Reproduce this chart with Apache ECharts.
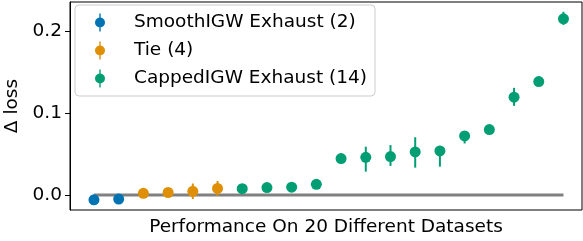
<!DOCTYPE html>
<html>
<head>
<meta charset="utf-8">
<script src="https://cdn.jsdelivr.net/npm/echarts@6/dist/echarts.min.js"></script>
<style>
  *{ margin:0; padding:0; }
  #chart{ width:583px; height:241px; background:#fff; }
</style>
</head>
<body>
<div id="chart"></div>
<script>
  // one entry per dataset, sorted by mean loss difference
  var datasetIdx = [0,1,2,3,4,5,6,7,8,9,10,11,12,13,14,15,16,17,18,19];
  var groupOf = ['s','s','t','t','t','t','c','c','c','c','c','c','c','c','c','c','c','c','c','c'];
  var meanLoss = [-0.006,-0.005,0.002,0.003,0.0045,0.008,0.0077,0.009,0.0095,0.013,
                  0.0445,0.046,0.047,0.0526,0.0539,0.0722,0.080,0.1196,0.1387,0.2154];
  var lowLoss  = [-0.007,-0.006,0.001,0.0015,-0.005,-0.001,0.006,0.007,0.0075,0.011,
                  0.039,0.0285,0.0355,0.0334,0.0346,0.063,0.077,0.109,0.135,0.208];
  var highLoss = [-0.005,-0.004,0.003,0.0045,0.014,0.017,0.0095,0.011,0.0115,0.015,
                  0.0505,0.059,0.061,0.0706,0.060,0.0775,0.083,0.131,0.1425,0.224];
  var groupNames = { s:'SmoothIGW Exhaust (2)', t:'Tie (4)', c:'CappedIGW Exhaust (14)' };
  var groupColors = { s:'#0173b2', t:'#de8f05', c:'#029e73' };
  var yTicks = [0, 0.1, 0.2];
  var baseline = [[0, 0], [19, 0]];

  var chart = echarts.init(document.getElementById('chart'));
  var legendIcon = 'path://M4.3,0h1.4v18h-1.4z M10,9A5,5,0,1,1,0,9A5,5,0,1,1,10,9z';

  var series = [{
    type:'line', data: baseline, symbol:'none', silent:true, z:1,
    lineStyle:{ color:'#808080', width:3 }
  }];
  ['s','t','c'].forEach(function(g){
    var pts = [], bars = [];
    datasetIdx.forEach(function(i){
      if (groupOf[i] !== g) return;
      pts.push([i, meanLoss[i]]);
      bars.push([i, lowLoss[i], highLoss[i]]);
    });
    series.push({
      type:'custom', name: groupNames[g] + ' err', data: bars, z:3,
      renderItem: function(params, api){
        var a = api.coord([api.value(0), api.value(1)]);
        var b = api.coord([api.value(0), api.value(2)]);
        return { type:'line', shape:{ x1:a[0], y1:a[1], x2:b[0], y2:b[1] },
                 style:{ stroke: groupColors[g], lineWidth:2 } };
      }
    });
    series.push({
      type:'scatter', name: groupNames[g], data: pts, symbolSize:11, z:4,
      itemStyle:{ color: groupColors[g], opacity:1 }
    });
  });

  chart.setOption({
    animation:false,
    textStyle:{ fontFamily:'DejaVu Sans' },
    grid:{ left:70, right:1, top:2, bottom:31, show:true, borderColor:'#000', borderWidth:1,
           outerBoundsMode:'none', containLabel:false },
    legend:{
      data:[groupNames.s, groupNames.t, groupNames.c],
      orient:'vertical', left:75, top:5,
      padding:[8,8,8,20], itemGap:9,
      itemWidth:10, itemHeight:18, icon: legendIcon,
      backgroundColor:'rgba(255,255,255,0.8)', borderColor:'#cccccc', borderWidth:1, borderRadius:4,
      textStyle:{ fontSize:18.5, color:'#000', padding:[0,0,0,24] }
    },
    xAxis:{
      type:'value', min:-0.97, max:19.75,
      name:'Performance On 20 Different Datasets', nameLocation:'middle', nameGap:8,
      nameTextStyle:{ fontSize:18.5, color:'#000' },
      axisLine:{ show:false, onZero:false }, axisTick:{ show:false }, axisLabel:{ show:false }, splitLine:{ show:false }
    },
    yAxis:{
      type:'value', min:-0.0184, max:0.236,
      name:'Δ loss', nameLocation:'middle', nameRotate:90, nameGap:46,
      nameTextStyle:{ fontSize:18.5, color:'#000' },
      axisLine:{ show:true, onZero:false, lineStyle:{ color:'#000' } },
      axisTick:{ show:true, length:5, lineStyle:{ color:'#000' }, customValues: yTicks },
      axisLabel:{ fontSize:18.5, color:'#000', margin:8, customValues: yTicks,
                  formatter:function(v){ return v.toFixed(1); } },
      splitLine:{ show:false }
    },
    series: series
  });
</script>
</body>
</html>
